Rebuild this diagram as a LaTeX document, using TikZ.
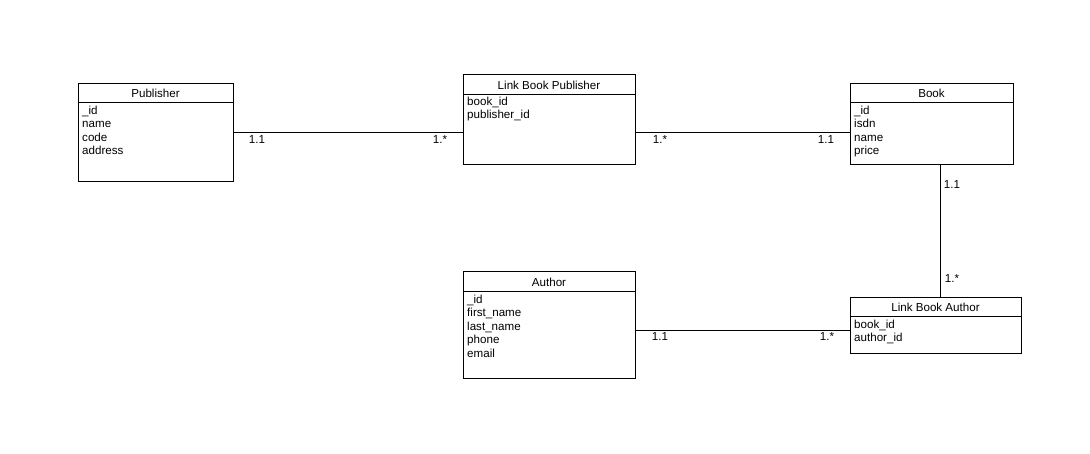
\documentclass[tikz,border=0pt]{standalone}
\usepackage{fontspec}
\setmainfont{Liberation Sans}
\begin{document}
\begin{tikzpicture}[x=1pt,y=-1pt,
  cls/.style={draw=black, line width=0.8pt, anchor=north west, inner sep=0pt},
  head/.style={font=\fontsize{11.6}{12}\selectfont, anchor=center},
  attrs/.style={font=\fontsize{11.6}{13.6}\selectfont, anchor=north west, align=left, inner sep=0pt},
  mult/.style={font=\fontsize{11.6}{12}\selectfont, anchor=center, inner sep=0pt},
  link/.style={draw=black, line width=0.8pt}]
\useasboundingbox (0,0) rectangle (1090,454);
\fill[white] (0,0) rectangle (1090,454);

% Publisher
\node[cls, minimum width=155pt, minimum height=98pt] (pub) at (78,83) {};
\draw[link] (78,102) -- (233,102);
\node[head] (pubh) at (155.5,93.5) {Publisher};
\node[attrs] (puba) at (82,105.5) {\_id\\name\\code\\address};

% Link Book Publisher
\node[cls, minimum width=172pt, minimum height=90pt] (lbp) at (463,74) {};
\draw[link] (463,94) -- (635,94);
\node[head] (lbph) at (549,85) {Link Book Publisher};
\node[attrs] (lbpa) at (467,96.5) {book\_id\\publisher\_id};

% Book
\node[cls, minimum width=163pt, minimum height=81pt] (book) at (850,83) {};
\draw[link] (850,102) -- (1013,102);
\node[head] (bookh) at (931.5,93.5) {Book};
\node[attrs] (booka) at (854,105.5) {\_id\\isdn\\name\\price};

% Author
\node[cls, minimum width=172pt, minimum height=107pt] (auth) at (463,271) {};
\draw[link] (463,291) -- (635,291);
\node[head] (authh) at (549,282.5) {Author};
\node[attrs] (autha) at (467,294.5) {\_id\\first\_name\\last\_name\\phone\\email};

% Link Book Author
\node[cls, minimum width=171pt, minimum height=56pt] (lba) at (850,297) {};
\draw[link] (850,316) -- (1021,316);
\node[head] (lbah) at (935.5,307.5) {Link Book Author};
\node[attrs] (lbaa) at (854,319.5) {book\_id\\author\_id};

% connectors
\coordinate (r1) at (0,132);
\coordinate (r2) at (0,330);
\coordinate (c1) at (940,0);
\draw[link] (pub.east |- r1) -- (lbp.west |- r1);
\draw[link] (lbp.east |- r1) -- (book.west |- r1);
\draw[link] (book.south -| c1) -- (lba.north -| c1);
\draw[link] (auth.east |- r2) -- (lba.west |- r2);

% multiplicities
\node[mult] (m1) at (257,140) {1.1};
\node[mult] (m2) at (440,140) {1.*};
\node[mult] (m3) at (660,140) {1.*};
\node[mult] (m4) at (826,140) {1.1};
\node[mult] (m5) at (952,185) {1.1};
\node[mult] (m6) at (952,279) {1.*};
\node[mult] (m7) at (660,337) {1.1};
\node[mult] (m8) at (827,337) {1.*};
\end{tikzpicture}
\end{document}
